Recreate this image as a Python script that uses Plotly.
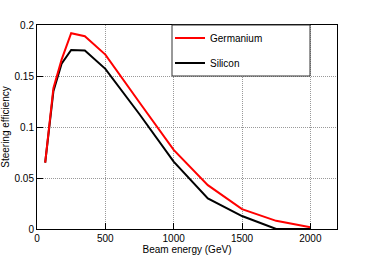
import plotly.graph_objects as go

energy = [60, 120, 180, 250, 350, 500, 750, 1000, 1250, 1500, 1750, 2000]
germanium = [0.065, 0.138, 0.166, 0.192, 0.189, 0.171, 0.124, 0.0775, 0.043, 0.0195, 0.008, 0.0017]
silicon = [0.065, 0.135, 0.162, 0.1755, 0.175, 0.157, 0.1125, 0.066, 0.030, 0.0127, 0.0, 0.0]
series_names = ["Germanium", "Silicon"]
x_ticks = [0, 500, 1000, 1500, 2000]
y_ticks = [0, 0.05, 0.1, 0.15, 0.2]
y_tick_text = ["0", "0.05", "0.1", "0.15", "0.2"]

font = dict(family="Liberation Sans, Arial, sans-serif", size=10, color="black")

fig = go.Figure()
fig.add_trace(go.Scatter(x=energy, y=silicon, mode="lines", name=series_names[1],
                         line=dict(color="black", width=2), legend="legend2"))
fig.add_trace(go.Scatter(x=energy, y=germanium, mode="lines", name=series_names[0],
                         line=dict(color="#ff0000", width=2), legend="legend"))

W, H = 374, 255
L, R, T, B = 37, 37, 25, 26
pw, ph = W - L - R, H - T - B

def px_x(p):
    return (p - L) / pw

def px_y(p):
    return (H - B - p) / ph

legend_common = dict(bgcolor="rgba(0,0,0,0)", borderwidth=0, font=font,
                     xanchor="left", yanchor="middle", x=px_x(170))

grid = dict(showgrid=True, gridcolor="#999999", griddash="1px,1px", gridwidth=1)

fig.update_layout(
    width=W, height=H,
    margin=dict(l=L, r=R, t=T, b=B, autoexpand=False),
    paper_bgcolor="white", plot_bgcolor="white",
    font=font,
    showlegend=True,
    hovermode=False,
    legend=dict(y=px_y(38), **legend_common),
    legend2=dict(y=px_y(63), **legend_common),
    xaxis=dict(range=[0, 2195], tickvals=x_ticks, ticks="inside", ticklen=6,
               tickcolor="black", showline=True, linecolor="black", linewidth=1,
               mirror=True, zeroline=False, automargin=False,
               title=dict(text="Beam energy (GeV)", font=font, standoff=2), **grid),
    yaxis=dict(range=[0, 0.2], tickvals=y_ticks, ticktext=y_tick_text,
               ticks="inside", ticklen=6, tickcolor="black", showline=True,
               linecolor="black", linewidth=1, mirror=True, zeroline=False,
               automargin=False,
               title=dict(text="Steering efficiency", font=font, standoff=4), **grid),
    shapes=[dict(type="rect", xref="paper", yref="paper",
                 x0=px_x(172), x1=px_x(310), y0=px_y(76), y1=1,
                 line=dict(color="#333333", width=1), fillcolor="white",
                 layer="above")],
)

fig.write_html("out.html", config={"displayModeBar": False},
               post_script="document.body.style.margin='0px';")
